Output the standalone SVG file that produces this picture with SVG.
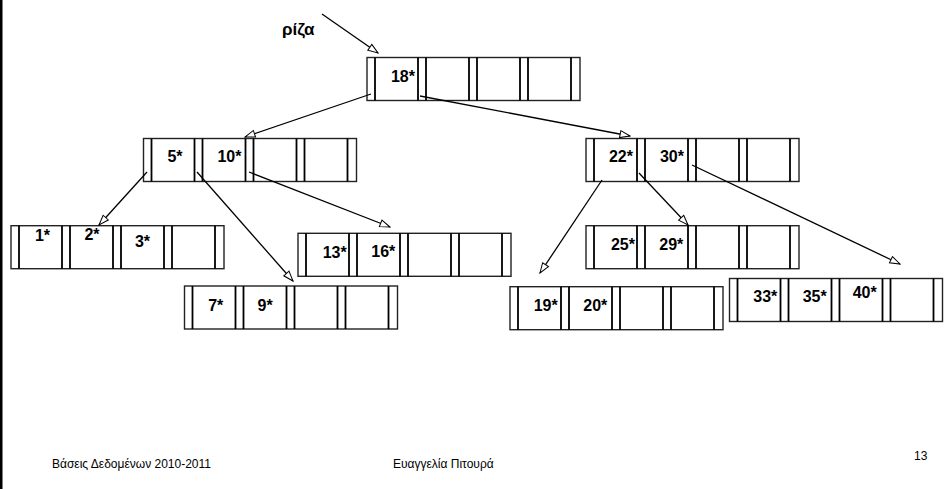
<svg xmlns="http://www.w3.org/2000/svg" width="947" height="489" viewBox="0 0 947 489">
<style>
.frame{fill:#fff;stroke:#222;stroke-width:1.4}
.sep{stroke:#000;stroke-width:1.8}
.key{font-family:"Liberation Sans",Arial,sans-serif;font-weight:bold;font-size:16px;fill:#000;text-anchor:end}
.lbl{font-family:"Liberation Sans",Arial,sans-serif;font-weight:bold;font-size:17px;fill:#000}
.foot{font-family:"Liberation Sans",Arial,sans-serif;font-size:12px;fill:#000}
.conn{stroke:#000;stroke-width:1.3;fill:none;marker-end:url(#ah)}
</style>
<defs>
<marker id="ah" markerUnits="userSpaceOnUse" markerWidth="12" markerHeight="10" refX="11" refY="4.5" orient="auto">
<path d="M1,1 L11,4.5 L1,8 Z" fill="#fff" stroke="#000" stroke-width="1"/>
</marker>
<g id="nd">
<rect class="frame" x="0" y="0" width="213" height="43"/>
<path class="sep" d="M8,0V43M51,0V43M59,0V43M102,0V43M110,0V43M153,0V43M161,0V43M204,0V43"/>
</g>
</defs>
<rect x="0" y="0" width="947" height="489" fill="#fff"/>
<rect x="0" y="0" width="2.5" height="489" fill="#000"/>

<g id="root-label"><text class="lbl" x="282" y="35">ρίζα</text></g>

<g id="root" transform="translate(367,57.5)">
<use href="#nd"/>
<text class="key" x="48" y="24.8">18*</text>
</g>
<g id="inner-left" transform="translate(143.5,138.5)">
<use href="#nd"/>
<text class="key" x="39" y="23.8">5*</text>
<text class="key" x="98" y="23.8">10*</text>
</g>
<g id="inner-right" transform="translate(586,138.5)">
<use href="#nd"/>
<text class="key" x="47" y="23.5">22*</text>
<text class="key" x="98" y="23.8">30*</text>
</g>
<g id="leaf-1" transform="translate(11,225.7)">
<use href="#nd"/>
<text class="key" x="39" y="15">1*</text>
<text class="key" x="88.5" y="14.5">2*</text>
<text class="key" x="139" y="21.8">3*</text>
</g>
<g id="leaf-13" transform="translate(298,233.3)">
<use href="#nd"/>
<text class="key" x="48.7" y="24.4">13*</text>
<text class="key" x="97.3" y="23.5">16*</text>
</g>
<g id="leaf-7" transform="translate(184.5,286)">
<use href="#nd"/>
<text class="key" x="38.8" y="24.7">7*</text>
<text class="key" x="88.2" y="24.7">9*</text>
</g>
<g id="leaf-25" transform="translate(586,225.7)">
<use href="#nd"/>
<text class="key" x="49" y="24.3">25*</text>
<text class="key" x="97.3" y="24.3">29*</text>
</g>
<g id="leaf-19" transform="translate(510,286.7)">
<use href="#nd"/>
<text class="key" x="47.7" y="24">19*</text>
<text class="key" x="97.3" y="24">20*</text>
</g>
<g id="leaf-33" transform="translate(729.5,278.5)">
<use href="#nd"/>
<text class="key" x="47.8" y="23.2">33*</text>
<text class="key" x="97.2" y="23.2">35*</text>
<text class="key" x="147.2" y="19.8">40*</text>
</g>

<g id="connectors">
<line class="conn" x1="322" y1="14" x2="378" y2="53"/>
<line class="conn" x1="371" y1="94" x2="245" y2="137"/>
<line class="conn" x1="420" y1="96" x2="630" y2="136"/>
<line class="conn" x1="147" y1="172" x2="99" y2="225"/>
<line class="conn" x1="197" y1="172" x2="293" y2="281"/>
<line class="conn" x1="249" y1="172" x2="390" y2="227"/>
<line class="conn" x1="602" y1="180" x2="540" y2="273"/>
<line class="conn" x1="639" y1="173" x2="688" y2="225"/>
<line class="conn" x1="692" y1="165" x2="900" y2="264"/>
</g>

<g id="footer">
<text class="foot" x="52" y="468">Βάσεις Δεδομένων 2010-2011</text>
<text class="foot" x="393" y="468">Ευαγγελία Πιτουρά</text>
<text class="foot" x="914" y="460">13</text>
</g>
</svg>
